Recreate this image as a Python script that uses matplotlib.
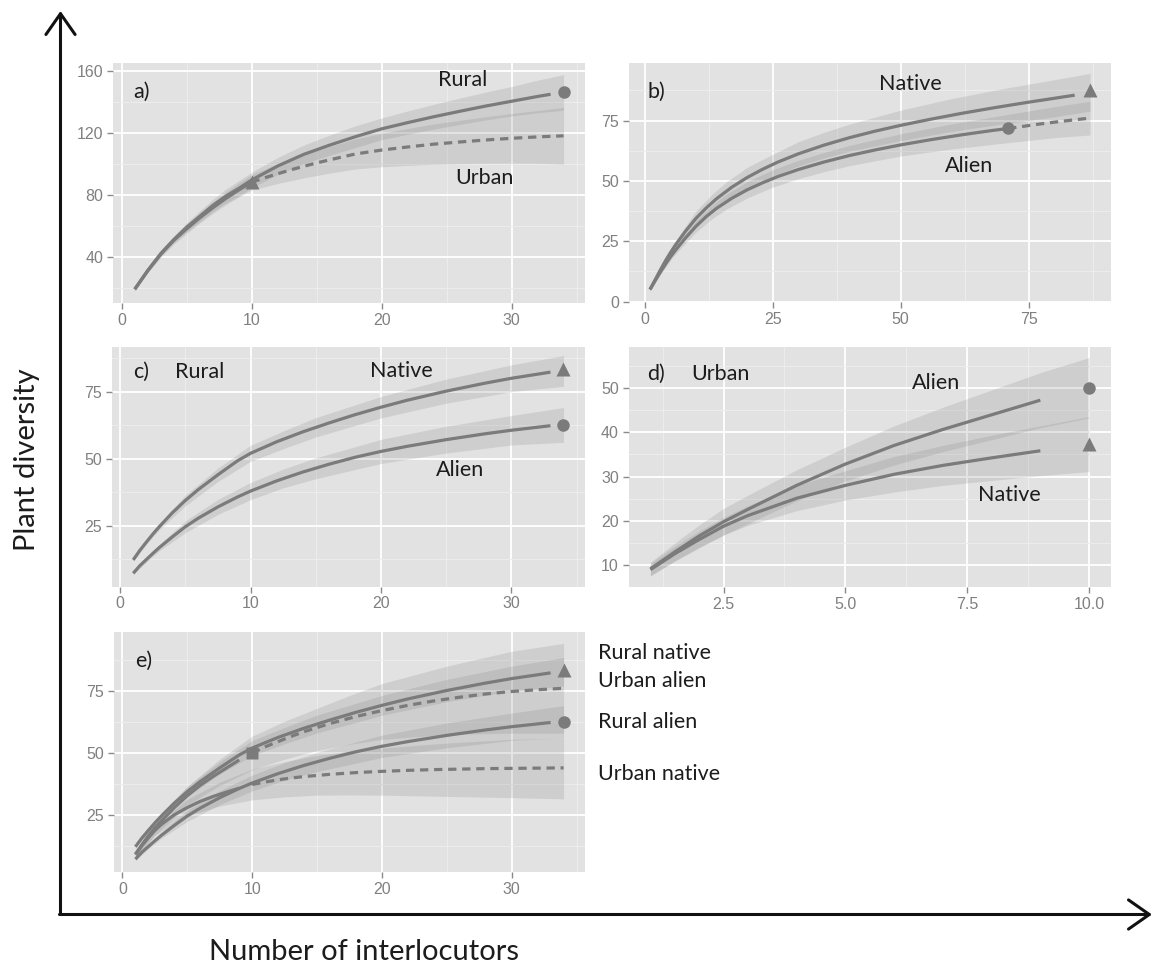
import matplotlib.pyplot as plt
from matplotlib.ticker import MultipleLocator, FormatStrFormatter

# ---- data ----
# a) rural vs urban (all species)
a_x_rural = [1, 2, 3, 4, 5, 6, 7, 8, 9, 10, 11, 12, 14, 16, 18, 20, 22, 24, 26, 28, 30, 32, 33]
a_rural = [19, 31, 42, 51, 59, 66, 73, 79, 84, 89.5, 94, 98.5, 106, 112, 117.5, 122.5,
           126.5, 130.3, 133.8, 137.2, 140.3, 143.4, 144.8]
a_rural_obs = (34, 146)
a_x_urban = [1, 2, 3, 4, 5, 6, 7, 8, 9, 10]
a_urban = [19, 31, 41.5, 50.5, 58, 65, 71.5, 77.5, 83, 88]
a_x_urban_ext = [10, 11, 12, 13, 14, 15, 16, 18, 20, 22, 24, 26, 28, 30, 32, 34]
a_urban_ext = [88, 90.9, 93.5, 96, 98.3, 100.5, 102.5, 106.3, 108.8, 110.8, 112.6, 114,
               115.3, 116.4, 117.3, 118]
a_urban_obs = (10, 88)
a_rband_x = [1, 2, 3, 4, 5, 6, 7, 8, 9, 10, 12, 14, 16, 18, 20, 22, 24, 26, 28, 30, 32, 34]
a_rural_lo = [18, 30, 40.5, 49, 56, 62.5, 69, 74.5, 79, 84.5, 93, 100, 105.5, 110.5, 115.5,
              119, 122.3, 125.3, 128.2, 130.8, 132.9, 134.5]
a_rural_hi = [20, 32, 43.5, 53, 62, 69.5, 77, 83.5, 89, 94.5, 104, 112, 118.5, 124.5, 129.5,
              134, 138.3, 142.3, 146.2, 149.8, 153.9, 157.5]
a_uband_x = [1, 2, 3, 4, 5, 6, 7, 8, 9, 10, 12, 14, 16, 18, 20, 22, 24, 26, 28, 30, 32, 34]
a_urban_lo = [18, 29.5, 39.5, 48, 55, 61.7, 67.9, 73.5, 78.5, 83, 87.2, 90.8, 93.9, 96.6,
              98, 98.9, 99.6, 100, 100.3, 100.4, 100.3, 99.7]
a_urban_hi = [20, 32.5, 43.5, 53, 61, 68.3, 75.1, 81.5, 87.5, 93, 99.8, 105.8, 111.1, 116,
              119.6, 122.7, 125.6, 128, 130.3, 132.4, 134.3, 136.3]

# b) native vs alien (all sites)
b_x_native = [1, 2, 3, 4, 5, 6, 8, 10, 12, 14, 17, 20, 23, 26, 30, 35, 40, 45, 50, 56,
              62, 68, 75, 80, 84]
b_native = [5, 9, 13, 16.8, 20.3, 23.5, 29.3, 34.5, 38.8, 42.6, 47.4, 51.4, 54.8, 57.8,
            61.2, 64.8, 67.9, 70.6, 73, 75.6, 78, 80.2, 82.6, 84.2, 85.5]
b_native_obs = (87, 87.7)
b_x_alien = [1, 2, 3, 4, 5, 6, 8, 10, 12, 14, 17, 20, 23, 26, 30, 35, 40, 45, 50, 56,
             62, 68, 71]
b_alien = [5, 8.6, 12.1, 15.4, 18.5, 21.3, 26.5, 31.2, 35.2, 38.6, 42.8, 46.3, 49.2, 51.8,
           54.7, 57.8, 60.5, 62.8, 64.9, 67.1, 69.1, 70.9, 71.7]
b_x_alien_ext = [71, 74, 77, 80, 84, 87]
b_alien_ext = [71.7, 72.6, 73.5, 74.3, 75.3, 76]
b_alien_obs = (71, 71.7)
b_band_x = [1, 2, 3, 5, 7, 10, 13, 16, 20, 25, 30, 35, 40, 50, 60, 70, 80, 87]
b_native_lo = [4.5, 8.2, 12, 18.8, 24.4, 31.5, 37.2, 42.1, 47.2, 52, 56.2, 59.5, 62.3,
               66.7, 70.5, 73.6, 76.5, 78.9]
b_native_hi = [5.5, 9.8, 14, 21.8, 28.4, 37.5, 44.2, 49.7, 55.6, 61, 66.2, 70.1, 73.5,
               79.3, 84.1, 88.2, 91.9, 94.5]
b_alien_lo = [4.5, 7.8, 11.1, 17.1, 22.1, 28.8, 34.1, 38.4, 42.9, 47.4, 50.9, 53.8, 56.3,
              60.3, 63.2, 65.6, 67.9, 69]
b_alien_hi = [5.5, 9.4, 13.1, 19.9, 25.7, 33.6, 39.7, 44.6, 49.7, 54.6, 58.5, 61.8, 64.7,
              69.5, 73.6, 77.2, 80.7, 83]

# c) rural: native vs alien
c_x = [1, 1.5, 2, 2.5, 3, 4, 5, 6, 7.5, 9, 10, 12, 14, 16, 18, 20, 22, 25, 28, 30, 33]
c_native = [12.2, 15.7, 18.8, 21.8, 24.6, 29.8, 34.4, 38.5, 44, 49.2, 52, 56.3, 60, 63.3,
            66.4, 69.2, 71.8, 75.2, 78.2, 80, 82.3]
c_alien = [7.2, 10, 12.3, 14.6, 16.8, 20.8, 24.6, 27.8, 32, 35.7, 37.9, 41.7, 45, 47.9,
           50.5, 52.7, 54.6, 57.1, 59.3, 60.6, 62.3]
c_native_obs = (34, 83.3)
c_alien_obs = (34, 62.6)
c_band_x = [1, 2, 3, 5, 7.5, 10, 12.5, 15, 20, 25, 30, 34]
c_native_lo = [11.7, 18, 23.5, 32.4, 41.5, 49, 53.7, 58.1, 65.2, 70.7, 75, 77]
c_native_hi = [12.7, 19.6, 25.7, 36.4, 46.5, 55, 60.3, 65.3, 73.2, 79.7, 85, 88.5]
c_alien_lo = [6.7, 11.4, 15.6, 22.4, 29.2, 34.7, 39.1, 42.5, 48.2, 52.1, 55.1, 56.1]
c_alien_hi = [7.7, 13.2, 18, 26.8, 34.8, 41.1, 46.1, 50.3, 57.2, 62.1, 66.1, 69.1]

# d) urban: native vs alien
d_x = [1, 1.5, 2, 2.5, 3, 4, 5, 6, 7, 8, 9]
d_alien = [9.2, 13, 16.6, 19.8, 22.6, 28, 32.8, 37, 40.6, 43.9, 47.2]
d_native = [9, 12.6, 15.8, 18.8, 21.2, 25.1, 28, 30.5, 32.5, 34.2, 35.8]
d_alien_obs = (10, 50)
d_native_obs = (10, 37.3)
d_band_x = [1, 1.5, 2, 2.5, 3, 4, 5, 6, 7, 8, 9, 10]
d_alien_lo = [7.7, 11, 14.1, 16.8, 19.4, 24.5, 29, 32.6, 35.6, 38.3, 41, 43.2]
d_alien_hi = [10.7, 15, 19.1, 22.8, 25.8, 31.5, 36.6, 41.4, 45.6, 49.5, 53.4, 56.8]
d_native_lo = [7.6, 10.9, 13.9, 16.8, 19, 22.3, 24.7, 26.5, 28, 29.1, 30.2, 31.1]
d_native_hi = [10.4, 14.3, 17.7, 20.8, 23.4, 28, 31.3, 34.5, 37, 39.3, 41.4, 43.5]

# e) all four groups (urban extrapolated to 34)
e_x_ext = [10, 11, 12, 13, 14, 16, 18, 20, 22, 24, 26, 28, 30, 32, 34]
e_urban_alien_ext = [50, 52.5, 54.6, 56.7, 58.6, 61.9, 64.7, 67.1, 69.2, 71, 72.5, 73.8,
                     74.8, 75.5, 76.1]
e_urban_native_ext = [37.3, 38.3, 39.2, 39.9, 40.5, 41.4, 42.1, 42.6, 43, 43.3, 43.5,
                      43.7, 43.8, 43.9, 44]
e_urban_alien_obs = (10, 50)
e_band_x = [1, 2.5, 5, 7.5, 10, 12.5, 15, 17.5, 20, 25, 30, 34]
e_urban_alien_lo = [7.7, 16.8, 29, 36.9, 43.2, 47.5, 51, 53.5, 55.5, 57.5, 58, 58]
e_urban_alien_hi = [10.7, 22.8, 36.6, 47.5, 56.8, 62.8, 68, 73.2, 78, 85, 91, 94.2]
e_urban_native_lo = [7.6, 16.8, 24.7, 28.6, 31.1, 32.3, 33, 33.1, 33, 32.5, 32, 31.5]
e_urban_native_hi = [10.4, 20.8, 31.3, 38.2, 43.5, 46.5, 49, 50.7, 52, 54, 55.5, 56]
e_labels = ['Rural native', 'Urban alien', 'Rural alien', 'Urban native']

LINE = '#7b7b7b'
BAND = '#808080'
TXT = '#1c1c1c'
LAB_FONT = ['Lato', 'DejaVu Sans']
plt.rcParams['font.family'] = ['Liberation Sans', 'DejaVu Sans']

W, H = 1154, 965
fig = plt.figure(figsize=(W / 100, H / 100), dpi=100)


def add_panel(left, top, right, bottom):
    return fig.add_axes([left / W, 1 - bottom / H, (right - left) / W, (bottom - top) / H])


def style(ax, xlim, ylim, xstep, ystep):
    ax.set_facecolor('#e2e2e2')
    ax.set_xlim(*xlim)
    ax.set_ylim(*ylim)
    ax.xaxis.set_major_locator(MultipleLocator(xstep))
    ax.yaxis.set_major_locator(MultipleLocator(ystep))
    ax.xaxis.set_minor_locator(MultipleLocator(xstep / 2))
    ax.yaxis.set_minor_locator(MultipleLocator(ystep / 2))
    ax.grid(which='major', color='white', lw=1.3)
    ax.grid(which='minor', color='#ededed', lw=0.7)
    ax.set_axisbelow(True)
    for s in ax.spines.values():
        s.set_visible(False)
    ax.tick_params(which='major', length=4, width=1, color='#8a8a8a',
                   labelcolor='#808080', labelsize=11.5, pad=3)
    ax.tick_params(which='minor', length=0)


def band(ax, x, lo, hi):
    ax.fill_between(x, lo, hi, color=BAND, alpha=0.2, lw=0)


def curve(ax, x, y, ls='-'):
    if ls == '-':
        ax.plot(x, y, color=LINE, lw=2.3, solid_capstyle='butt', solid_joinstyle='round')
    else:
        ax.plot(x, y, color=LINE, lw=2.3, dashes=(2.6, 1.8))


def obs(ax, pt, marker, size):
    ax.plot([pt[0]], [pt[1]], marker=marker, color=LINE, ms=size, mec='none',
            clip_on=False)


def label(ax, x, y, s):
    ax.text(x, y, s, ha='center', va='center', fontsize=15.5, color=TXT,
            family=LAB_FONT)


# a)
ax = add_panel(113.3, 63.3, 585, 303.3)
style(ax, (-0.65, 35.65), (9.9, 164.8), 10, 40)
band(ax, a_rband_x, a_rural_lo, a_rural_hi)
band(ax, a_uband_x, a_urban_lo, a_urban_hi)
curve(ax, a_x_rural, a_rural)
curve(ax, a_x_urban, a_urban)
curve(ax, a_x_urban_ext, a_urban_ext, '--')
obs(ax, a_rural_obs, 'o', 9)
obs(ax, a_urban_obs, '^', 10.5)
label(ax, 1.5, 146.5, 'a)')
label(ax, 26.2, 154, 'Rural')
label(ax, 27.9, 90.6, 'Urban')

# b)
ax = add_panel(628.5, 63.3, 1111, 302.3)
style(ax, (-3.2, 91.1), (-0.3, 98.7), 25, 25)
band(ax, b_band_x, b_native_lo, b_native_hi)
band(ax, b_band_x, b_alien_lo, b_alien_hi)
curve(ax, b_x_native, b_native)
curve(ax, b_x_alien, b_alien)
curve(ax, b_x_alien_ext, b_alien_ext, '--')
obs(ax, b_native_obs, '^', 10.5)
obs(ax, b_alien_obs, 'o', 9)
label(ax, 2.2, 87, 'b)')
label(ax, 51.8, 90.2, 'Native')
label(ax, 63.4, 56.2, 'Alien')

# c)
ax = add_panel(111.7, 346.7, 585, 586.7)
style(ax, (-0.65, 35.65), (2.2, 91.8), 10, 25)
band(ax, c_band_x, c_native_lo, c_native_hi)
band(ax, c_band_x, c_alien_lo, c_alien_hi)
curve(ax, c_x, c_native)
curve(ax, c_x, c_alien)
obs(ax, c_native_obs, '^', 10.5)
obs(ax, c_alien_obs, 'o', 9)
label(ax, 1.6, 82.5, 'c)')
label(ax, 6.1, 82.5, 'Rural')
label(ax, 21.6, 82.8, 'Native')
label(ax, 26.1, 45.8, 'Alien')

# d)
ax = add_panel(628.5, 346.7, 1111, 587)
style(ax, (0.55, 10.45), (5.1, 59.25), 2.5, 10)
ax.xaxis.set_major_formatter(FormatStrFormatter('%.1f'))
band(ax, d_band_x, d_alien_lo, d_alien_hi)
band(ax, d_band_x, d_native_lo, d_native_hi)
curve(ax, d_x, d_alien)
curve(ax, d_x, d_native)
obs(ax, d_alien_obs, 'o', 9)
obs(ax, d_native_obs, '^', 10.5)
label(ax, 1.12, 53.2, 'd)')
label(ax, 2.43, 53.2, 'Urban')
label(ax, 6.86, 51, 'Alien')
label(ax, 8.36, 25.8, 'Native')

# e)
ax = add_panel(114, 631.7, 585, 872.3)
style(ax, (-0.65, 35.65), (1.9, 98.9), 10, 25)
band(ax, c_band_x, c_native_lo, c_native_hi)
band(ax, c_band_x, c_alien_lo, c_alien_hi)
band(ax, e_band_x, e_urban_alien_lo, e_urban_alien_hi)
band(ax, e_band_x, e_urban_native_lo, e_urban_native_hi)
curve(ax, c_x, c_native)
curve(ax, c_x, c_alien)
curve(ax, d_x, d_alien)
curve(ax, d_x, d_native)
curve(ax, e_x_ext, e_urban_alien_ext, '--')
curve(ax, e_x_ext, e_urban_native_ext, '--')
obs(ax, c_native_obs, '^', 10.5)
obs(ax, c_alien_obs, 'o', 9)
obs(ax, e_urban_alien_obs, 's', 9)
label(ax, 1.67, 87.2, 'e)')
for s, yp in zip(e_labels, [653, 681, 722, 774]):
    fig.text(598 / W, 1 - yp / H, s, ha='left', va='center', fontsize=15.5,
             color=TXT, family=LAB_FONT)

# big outer axes with arrows
bg = fig.add_axes([0, 0, 1, 1], zorder=-1)
bg.set_xlim(0, W)
bg.set_ylim(H, 0)
bg.axis('off')
arrow = dict(arrowstyle='->,head_length=0.5,head_width=0.35', lw=2.2,
             color='#111111', mutation_scale=30, shrinkA=0, shrinkB=0)
bg.annotate('', xy=(60.5, 11), xytext=(60.5, 914.5), arrowprops=arrow)
bg.annotate('', xy=(1152, 914.5), xytext=(59.5, 914.5), arrowprops=arrow)

fig.text(27 / W, 1 - 460 / H, 'Plant diversity', rotation=90, ha='center',
         va='center', fontsize=21, color=TXT, family=LAB_FONT)
fig.text(364 / W, 1 - 952 / H, 'Number of interlocutors', ha='center',
         va='center', fontsize=21, color=TXT, family=LAB_FONT)

fig.savefig('out.png', dpi=100)
